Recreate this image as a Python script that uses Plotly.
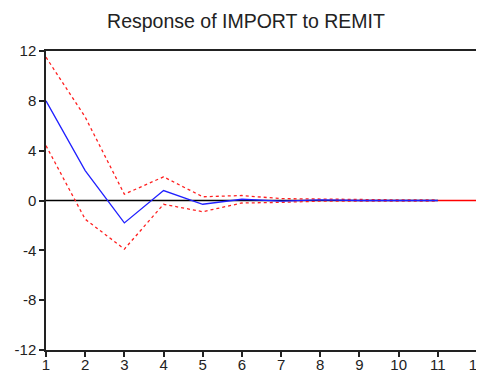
import plotly.graph_objects as go

periods = [1, 2, 3, 4, 5, 6, 7, 8, 9, 10, 11]
response = [8.0, 2.4, -1.8, 0.8, -0.3, 0.1, -0.05, 0.05, 0.0, 0.0, 0.0]
upper = [11.5, 6.7, 0.5, 1.9, 0.3, 0.4, 0.15, 0.1, 0.05, 0.05, 0.05]
lower = [4.4, -1.5, -3.9, -0.3, -0.9, -0.2, -0.15, -0.05, -0.05, -0.05, -0.05]
x_ticks = list(range(1, 13))
y_ticks = [-12, -8, -4, 0, 4, 8, 12]
y_tick_labels = ["-12", "-8", "-4", "0", "4", "8", "12"]

fig = go.Figure()
fig.add_shape(type="line", xref="x", yref="y", x0=1, x1=11, y0=0, y1=0,
              line=dict(color="black", width=1.5), layer="below")
fig.add_shape(type="line", xref="x", yref="y", x0=11, x1=12, y0=0, y1=0,
              line=dict(color="red", width=1.5), layer="below")
fig.add_trace(go.Scatter(x=periods, y=upper, mode="lines",
                         line=dict(color="#ff2020", width=1.3, dash="3px,3px")))
fig.add_trace(go.Scatter(x=periods, y=lower, mode="lines",
                         line=dict(color="#ff2020", width=1.3, dash="3px,3px")))
fig.add_trace(go.Scatter(x=periods, y=response, mode="lines",
                         line=dict(color="#2020ff", width=1.3)))

axis_common = dict(showline=True, linecolor="#222", linewidth=1.5, mirror=True,
                   showgrid=False, zeroline=False, ticks="outside", ticklen=5,
                   tickcolor="#222", tickwidth=1.5, automargin=False,
                   tickfont=dict(family="Liberation Sans, Arial", size=15, color="#222"))
fig.update_xaxes(range=[1, 12], tickvals=x_ticks, ticklabelstandoff=-5, **axis_common)
fig.update_yaxes(range=[-12, 12], tickvals=y_ticks, ticktext=y_tick_labels, **axis_common)

fig.update_layout(
    width=484, height=376,
    margin=dict(l=38, r=15, t=43, b=34),
    paper_bgcolor="white", plot_bgcolor="white",
    showlegend=False,
    title=dict(text="Response of IMPORT to REMIT", x=238 / 484, xanchor="center",
               y=1 - 13 / 376, yanchor="middle",
               font=dict(family="Liberation Sans, Arial", size=19.5, color="#222")),
)
fig.write_html("out.html")
